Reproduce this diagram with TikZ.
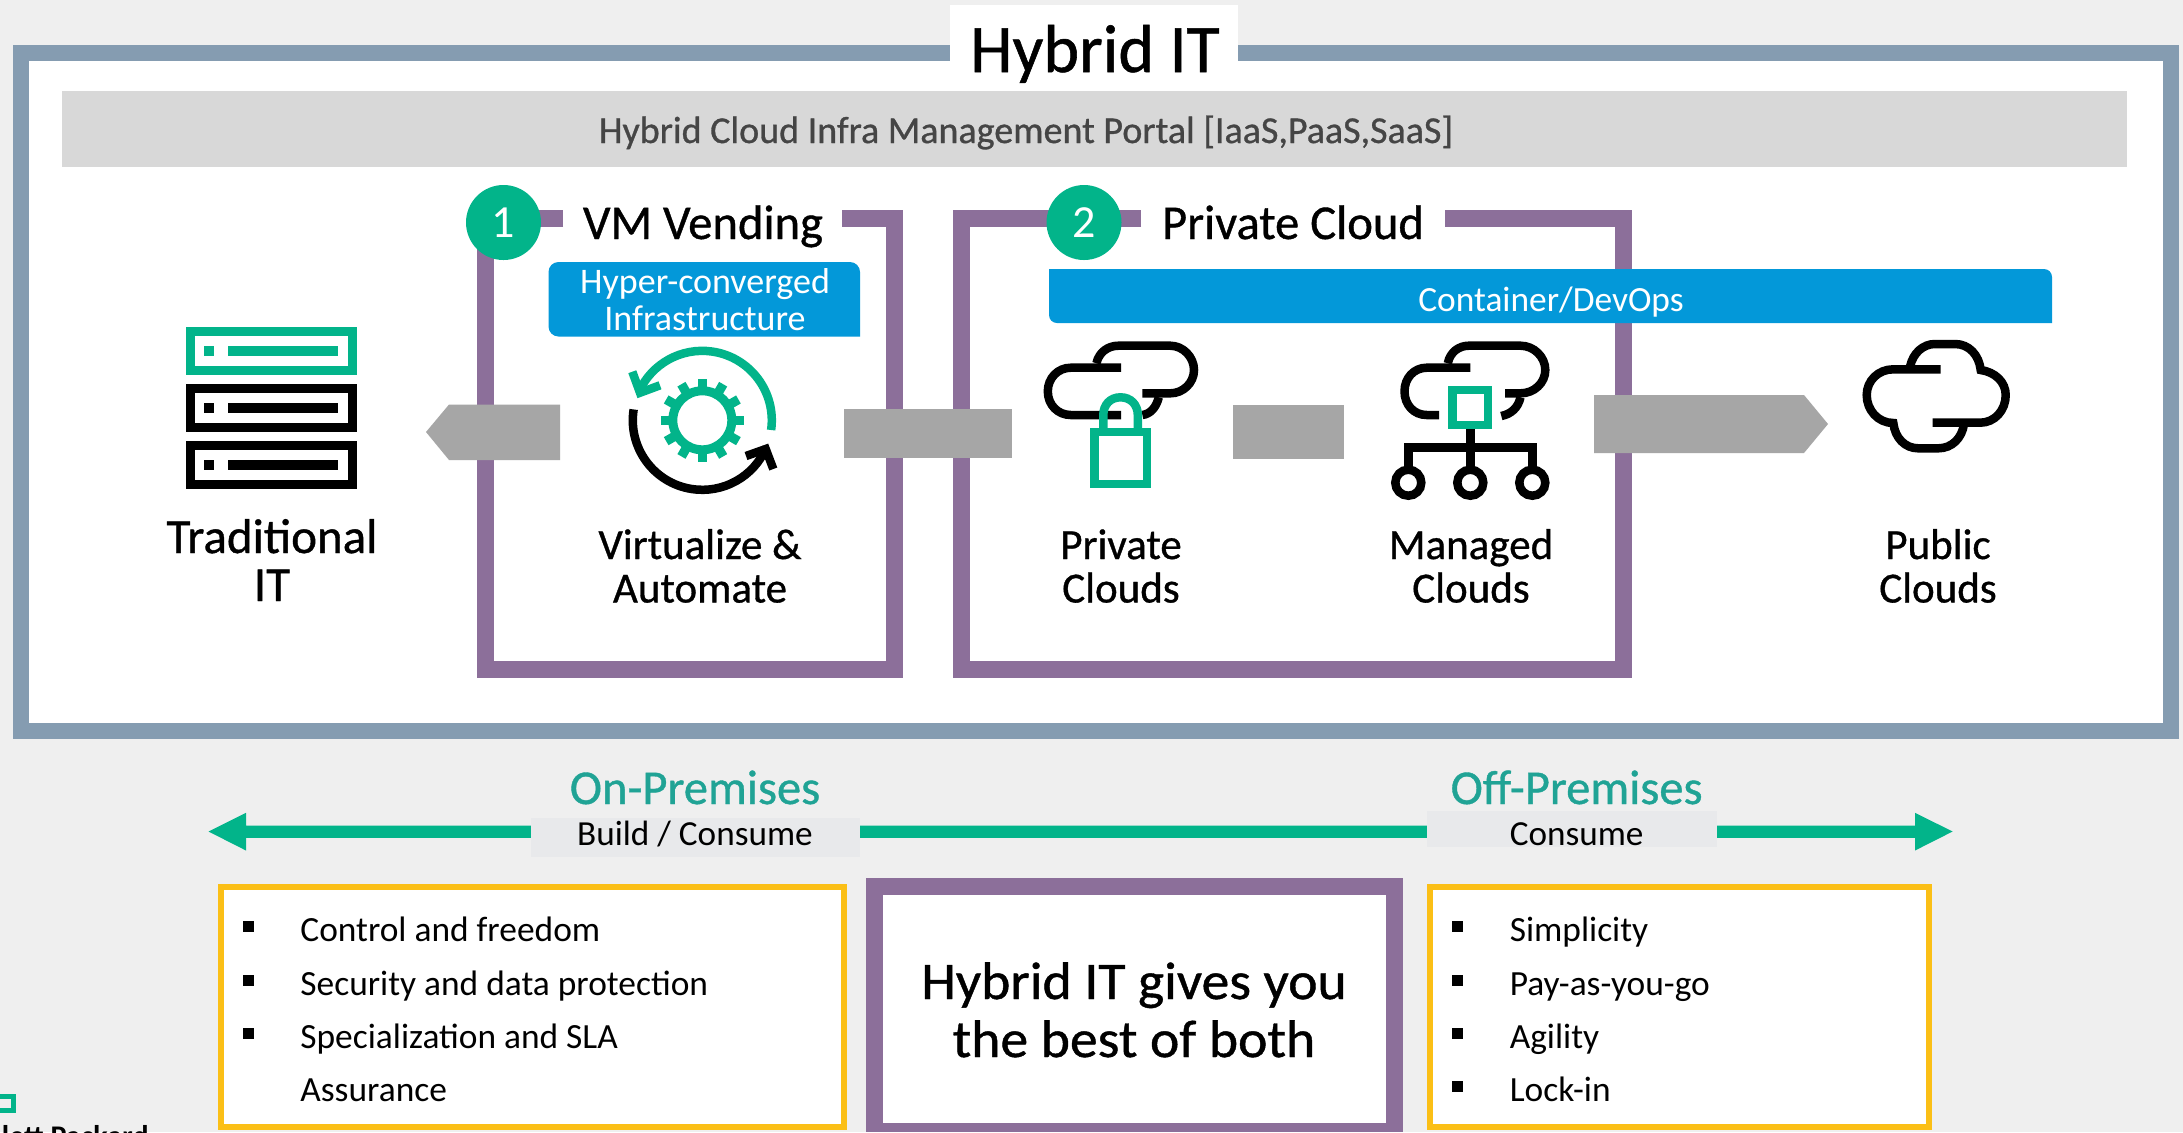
\documentclass[tikz,border=0pt]{standalone}
\usepackage{fontspec}
\setmainfont{Carlito}
\newfontfamily\medfont[FakeBold=0.8]{Carlito}
\newfontfamily\widefont[FakeBold=0.8,FakeStretch=1.05]{Carlito}
\definecolor{bgc}{HTML}{EFEFEF}
\definecolor{framec}{HTML}{859CB1}
\definecolor{portalc}{HTML}{D8D8D8}
\definecolor{purplec}{HTML}{8C6F9A}
\definecolor{greenc}{HTML}{02B48A}
\definecolor{bluec}{HTML}{0398D9}
\definecolor{grayc}{HTML}{A6A6A6}
\definecolor{yellowc}{HTML}{FBBF16}
\definecolor{tagc}{HTML}{E8E9EB}
\definecolor{tealc}{HTML}{20A395}
\tikzset{
  txt/.style={inner sep=0pt,outer sep=0pt,align=center},
  heading/.style={txt,font=\medfont\fontsize{24.3}{24.3}\selectfont},
  iconlabel/.style={txt,font=\medfont\fontsize{21.5}{21.75}\selectfont},
  listitem/.style={inner sep=0pt,outer sep=0pt,anchor=base west,font=\fontsize{17.7}{17.7}\selectfont},
  badge/.style={circle,fill=greenc,text=white,minimum size=37.5pt,inner sep=0pt,font=\fontsize{23}{23}\selectfont},
  pframe/.style={draw=purplec,line width=8.5pt},
  icon/.style={line width=4.25pt},
  blockarrow/.style={fill=grayc},
  premises/.style={txt,anchor=base,text=tealc,font=\medfont\fontsize{24.3}{24.3}\selectfont},
  tag/.style={txt,anchor=base,font=\fontsize{17.6}{17.6}\selectfont},
}
\newcommand{\mybullet}[2]{\fill (#1,#2-5.5) rectangle ++(11,11);}
\begin{document}
\begin{tikzpicture}[x=0.5pt,y=-0.5pt]
\useasboundingbox (0,0) rectangle (2183,1132);
\clip (0,0) rectangle (2183,1132);
\fill[bgc] (0,0) rectangle (2183,1132);
% outer frame
\draw[framec,line width=8pt,fill=white] (21,53) rectangle (2171,730.5);
\fill[white] (950,5) rectangle (1238,70);
\node[txt,anchor=base,font=\medfont\fontsize{34}{34}\selectfont] (title) at (1095,72) {Hybrid IT};
% portal
\fill[portalc] (62,91) rectangle (2127,166.5);
\node[txt,anchor=base,text=black!73,font=\medfont\fontsize{19}{19}\selectfont] (portal) at (1026,143) {Hybrid Cloud Infra Management Portal [IaaS,PaaS,SaaS]};
% purple frames
\draw[pframe] (563,218.5) -- (485.5,218.5) -- (485.5,669) -- (894.5,669) -- (894.5,218.5) -- (842,218.5);
\draw[pframe] (1141,218.5) -- (961.5,218.5) -- (961.5,669) -- (1623.5,669) -- (1623.5,218.5) -- (1445,218.5);
\node[badge] (one) at (503.5,222.5) {1};
\node[badge] (two) at (1084,222.5) {2};
\node[heading,anchor=base] (vm) at (703,239) {VM Vending};
\node[heading,anchor=base] (pc) at (1293,239) {Private Cloud};
% blue bars
\fill[bluec,rounded corners=5pt] (548.5,336.5) -- (548.5,262) -- (860,262) -- (860,300) [sharp corners] -- (860,336.5) [rounded corners=5pt] -- cycle;
\node[txt,text=white,font=\fontsize{18}{18.5}\selectfont] (hci) at (705,300) {Hyper-converged\\Infrastructure};
\fill[bluec,rounded corners=4pt] (1049,300) -- (1049,323) -- (1100,323) [sharp corners] -- (2052,323) -- (2052,290) [rounded corners=4pt] -- (2052,269) -- (1900,269) [sharp corners] -- (1049,269) -- cycle;
\node[txt,text=white,font=\fontsize{17.7}{17.7}\selectfont] (devops) at (1551,302) {Container/DevOps};
% gray block arrows
\fill[blockarrow] (426,432) -- (449,404.5) -- (560,404.5) -- (560,460) -- (449,460) -- cycle;
\fill[blockarrow] (844,409) rectangle (1012,458);
\fill[blockarrow] (1233,405) rectangle (1344,459);
\fill[blockarrow] (1594,395) -- (1804,395) -- (1828,424) -- (1804,453) -- (1594,453) -- cycle;
% servers
\foreach \yy/\cc in {327/greenc,384/black,441/black}{
  \draw[\cc,line width=4.5pt] (190.5,\yy+4.5) rectangle (352,\yy+43.5);
  \fill[\cc] (204,\yy+19) rectangle (214,\yy+29);
  \fill[\cc] (228,\yy+19) rectangle (338,\yy+29);
}
\node[txt,anchor=base,font=\medfont\fontsize{24.5}{24}\selectfont] (trad) at (272,601) {Traditional\\IT};
% gear and arrows
\coordinate (gc) at (702.3,420.3);
\draw[greenc,line width=4.5pt] (gc) circle (29.5);
\foreach \a in {0,30,...,330}{\draw[greenc,line width=4.65pt] (gc) ++(\a:30) -- ++(\a:11.7);}
\draw[greenc,icon] (771.1,430) arc (8:-156:69.5);
\draw[greenc,icon] (632.3,371.7) -- (640,392.7) -- (660,385.3);
\draw[black,icon] (gc) ++(-171:69.5) arc (-171:-337:69.5);
\draw[black,icon] (773.3,469) -- (765.7,449) -- (746,456);
\node[iconlabel,anchor=base] (virt) at (700,602.5) {Virtualize \&\\Automate};
% private cloud icon
\draw[black,icon] (1121,367.7) -- (1070.8,367.7) .. controls (1058,367.7) and (1047.8,378) .. (1047.8,391.3) .. controls (1047.8,405) and (1058,415) .. (1070.8,415) -- (1121,415);
\draw[black,icon] (1096.4,363.3) .. controls (1099,352) and (1108,345.7) .. (1118.6,345.7) -- (1170.3,345.7) .. controls (1183,345.7) and (1194,357) .. (1194,370) .. controls (1194,383) and (1183,393.3) .. (1170.3,393.3) -- (1142.4,393.3);
\draw[black,icon] (1158.8,397.3) .. controls (1156,408) and (1150,414) .. (1142.4,415);
\draw[greenc,icon] (1094.7,432) rectangle (1147,484);
\draw[greenc,icon] (1103.3,428) -- (1103.3,415) .. controls (1103.3,405) and (1110,397.3) .. (1120.5,397.3) .. controls (1131,397.3) and (1137.8,405) .. (1137.8,415) -- (1137.8,428);
\node[iconlabel,anchor=base] (privc) at (1121,602.5) {Private\\Clouds};
% managed cloud icon
\draw[black,icon] (1470.3,367.7) -- (1426.7,367.7) .. controls (1414,367.7) and (1404.5,378) .. (1404.5,391.3) .. controls (1404.5,405) and (1414,415) .. (1426.7,415) -- (1439,415);
\draw[black,icon] (1447.8,363.3) .. controls (1450,352) and (1459,345.7) .. (1468.8,345.7) -- (1520.5,345.7) .. controls (1534,345.7) and (1545.3,357) .. (1545.3,370) .. controls (1545.3,383) and (1534,393.3) .. (1520.5,393.3) -- (1505,393.3);
\draw[black,icon] (1520.5,397.3) .. controls (1518,408) and (1511,414) .. (1501.3,416);
\draw[black,icon] (1470.3,429) -- (1470.3,469.7);
\draw[black,icon] (1408.3,469.7) -- (1408.3,447.3) -- (1532.3,447.3) -- (1532.3,469.7);
\foreach \xx in {1408.3,1470.3,1532.3}{\draw[black,icon] (\xx,482.7) circle (13);}
\draw[greenc,icon] (1452.5,390) rectangle (1488,425);
\node[iconlabel,anchor=base] (manc) at (1471,602.5) {Managed\\Clouds};
% public cloud icon
\draw[black,icon] (1940.7,369.3) -- (1893.3,369.3) .. controls (1878,369.3) and (1866.7,381) .. (1866.7,395) .. controls (1866.7,410) and (1878,423) .. (1893.3,423) .. controls (1895,438) and (1905,448.3) .. (1918.3,448.3) -- (1938.3,448.3) .. controls (1952,448.3) and (1962,438) .. (1964,424);
\draw[black,icon] (1910,366.7) .. controls (1913,353) and (1923,344) .. (1935,344) -- (1955,344) .. controls (1969,344) and (1979,355) .. (1980.7,370) .. controls (1995,372) and (2005.7,382) .. (2005.7,395) .. controls (2005.7,410) and (1995,422.7) .. (1980,422.7) -- (1932.7,422.7);
\node[iconlabel,anchor=base] (pubc) at (1938,602.5) {Public\\Clouds};
% on/off premises band
\fill[greenc] (208.5,831.5) -- (246,812.8) -- (246,825.5) -- (1915,825.5) -- (1915,812.8) -- (1952.6,831.5) -- (1915,850.5) -- (1915,837.8) -- (246,837.8) -- (246,850.5) -- cycle;
\fill[tagc] (531,818) rectangle (860,856.7);
\fill[tagc] (1426.7,811) rectangle (1717,846.7);
\node[premises] (onp) at (695,804) {On-Premises};
\node[premises] (offp) at (1576.6,804) {Off-Premises};
\node[tag] (build) at (695,845.5) {Build / Consume};
\node[tag] (cons) at (1576.6,845.5) {Consume};
% boxes
\draw[yellowc,line width=3pt,fill=white] (221,887) rectangle (844,1127);
\draw[yellowc,line width=3pt,fill=white] (1429.7,887) rectangle (1929,1127);
\fill[purplec] (865.7,878) rectangle (1402.7,1132);
\fill[white] (882.8,895) rectangle (1385.6,1123);
\node[txt,anchor=base,font=\widefont\fontsize{26.5}{29}\selectfont] (best) at (1134,1057) {Hybrid IT gives you\\the best of both};
\mybullet{243}{926}\mybullet{243}{980}\mybullet{243}{1033}
\node[listitem] (l1) at (300.4,941.5) {Control and freedom};
\node[listitem] (l2) at (300.4,995.5) {Security and data protection};
\node[listitem] (l3) at (300.4,1048.5) {Specialization and SLA};
\node[listitem] (l4) at (300.4,1101.5) {Assurance};
\mybullet{1452.4}{926}\mybullet{1452.4}{980}\mybullet{1452.4}{1033}\mybullet{1452.4}{1086}
\node[listitem] (r1) at (1509.8,941.5) {Simplicity};
\node[listitem] (r2) at (1509.8,995.5) {Pay-as-you-go};
\node[listitem] (r3) at (1509.8,1048.5) {Agility};
\node[listitem] (r4) at (1509.8,1101.5) {Lock-in};
% logo fragment
\draw[greenc,line width=2.5pt] (-20,1096.5) rectangle (13.2,1110.5);
\node[inner sep=0pt,anchor=base east,font=\bfseries\fontsize{15}{15}\selectfont] (logo) at (149,1146) {lett Packard};
\end{tikzpicture}
\end{document}
